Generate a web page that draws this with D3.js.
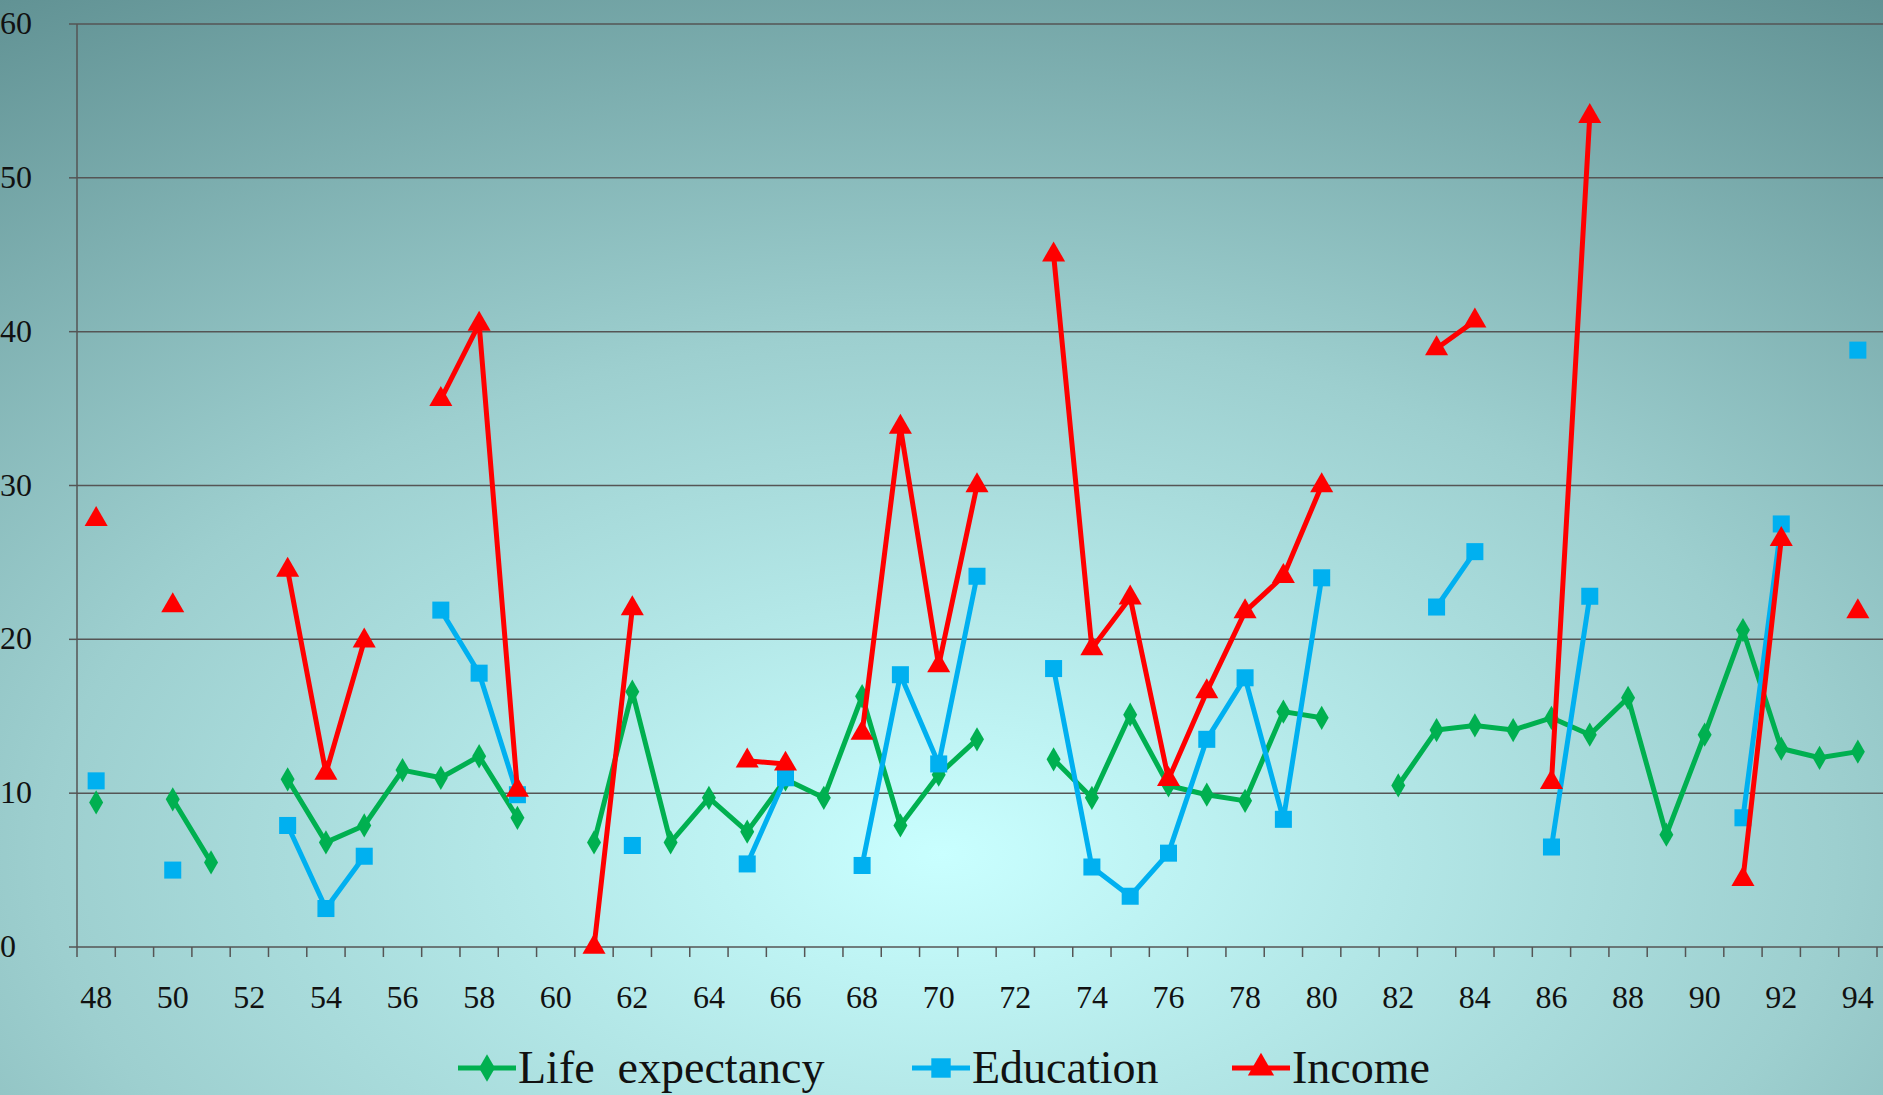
<!DOCTYPE html>
<html><head><meta charset="utf-8">
<script src="https://cdn.jsdelivr.net/npm/d3@7.9.0/dist/d3.min.js"></script>
<style>body{margin:0;overflow:hidden}svg{display:block}text{font-family:"Liberation Serif","DejaVu Serif",serif}</style>
</head><body><svg width="1883" height="1095"></svg>
<script>
(function(){
const years = d3.range(48, 95);
const N = null;
// values indexed by year 48..94
const life = [9.4,N,9.6,5.5,N,10.9,6.8,7.9,11.5,11.0,12.4,8.4,N,6.8,16.6,6.8,9.7,7.5,10.9,9.7,16.3,7.9,11.2,13.5,N,12.2,9.7,15.1,10.5,9.9,9.5,15.3,14.9,N,10.5,14.1,14.4,14.1,14.9,13.8,16.2,7.3,13.8,20.6,12.9,12.3,12.7];
const education = [10.8,N,5.0,N,N,7.9,2.5,5.9,N,21.9,17.8,9.9,N,N,6.6,N,N,5.4,11.0,N,5.3,17.7,11.9,24.1,N,18.1,5.2,3.3,6.1,13.5,17.5,8.3,24.0,N,N,22.1,25.7,N,6.5,22.8,N,N,N,8.4,27.5,N,38.8];
const income = [27.8,N,22.2,N,N,24.5,11.3,19.9,N,35.6,40.5,10.2,N,0.0,22.0,N,N,12.1,11.9,N,13.9,33.8,18.3,30.0,N,45.0,19.4,22.7,10.9,16.6,21.8,24.1,30.0,N,N,38.9,40.7,N,10.7,54.0,N,N,N,4.4,26.5,N,21.8];
const yTicks = [0,10,20,30,40,50,60];
const series = [
  {name:"Life  expectancy", values:life, color:"#00b050", shape:d3.symbolDiamond, size:170},
  {name:"Education", values:education, color:"#00b0f0", shape:d3.symbolSquare, size:290},
  {name:"Income", values:income, color:"#ff0000", shape:d3.symbolTriangle, size:230}
];

const svg = d3.select("svg");
const W = 1883, H = 1095;
const defs = svg.append("defs");
const rg = defs.append("radialGradient").attr("id","bg").attr("cx","0.5").attr("cy","0.78").attr("r","0.95");
rg.append("stop").attr("offset","0").attr("stop-color","#c9ffff");
rg.append("stop").attr("offset","0.5").attr("stop-color","#9dcfcf");
rg.append("stop").attr("offset","1").attr("stop-color","#5e8f91");
svg.append("rect").attr("width",W).attr("height",H).attr("fill","url(#bg)");

const mLeft = 77, mRight = 1877, mTop = 24, mBottom = 947;
const x = d3.scaleBand().domain(years).range([mLeft, mRight]);
const y = d3.scaleLinear().domain([0,60]).range([mBottom, mTop]);

svg.append("g").selectAll("line").data(yTicks.slice(1)).join("line")
  .attr("x1",mLeft).attr("x2",W).attr("y1",d=>y(d)).attr("y2",d=>y(d))
  .attr("stroke","#555").attr("stroke-width",1.5);
svg.append("g").selectAll("text").data(yTicks).join("text")
  .attr("x",0).attr("y",d=>y(d)+10).attr("font-size",32).attr("fill","#111").text(d=>d);
svg.append("line").attr("x1",mLeft).attr("x2",mLeft).attr("y1",mTop).attr("y2",mBottom).attr("stroke","#555").attr("stroke-width",1.5);
svg.append("line").attr("x1",mLeft).attr("x2",W).attr("y1",mBottom).attr("y2",mBottom).attr("stroke","#555").attr("stroke-width",1.5);
svg.append("g").selectAll("line").data(years.concat([95])).join("line")
  .attr("x1",d=>d===95?mRight:x(d)).attr("x2",d=>d===95?mRight:x(d))
  .attr("y1",mBottom).attr("y2",mBottom+10).attr("stroke","#555").attr("stroke-width",1.5);
svg.append("g").selectAll("line").data(yTicks).join("line")
  .attr("x1",mLeft-8).attr("x2",mLeft).attr("y1",d=>y(d)).attr("y2",d=>y(d)).attr("stroke","#555").attr("stroke-width",1.5);
svg.append("g").selectAll("text").data(years.filter(d=>d%2===0)).join("text")
  .attr("x",d=>x(d)+x.bandwidth()/2).attr("y",1008).attr("text-anchor","middle")
  .attr("font-size",32).attr("fill","#111").text(d=>d);

const cx = d=>x(d.yr)+x.bandwidth()/2;
series.forEach(s=>{
  const pts = years.map((yr,i)=>({yr, v:s.values[i]}));
  const line = d3.line().defined(d=>d.v!==null).x(cx).y(d=>y(d.v));
  svg.append("path").datum(pts).attr("d",line).attr("fill","none")
    .attr("stroke",s.color).attr("stroke-width",5).attr("stroke-linejoin","round");
  svg.append("g").selectAll("path").data(pts.filter(d=>d.v!==null)).join("path")
    .attr("transform",d=>`translate(${cx(d)},${y(d.v)})`)
    .attr("d",d3.symbol().type(s.shape).size(s.size)).attr("fill",s.color);
});

// legend
const lx = [458, 912, 1232];
series.forEach((s,i)=>{
  const g = svg.append("g").attr("transform",`translate(${lx[i]},1068)`);
  g.append("line").attr("x1",0).attr("x2",58).attr("stroke",s.color).attr("stroke-width",5);
  g.append("path").attr("transform","translate(29,0)").attr("d",d3.symbol().type(s.shape).size(s.size*1.3)).attr("fill",s.color);
  g.append("text").attr("x",60).attr("y",15).attr("font-size",46).attr("fill","#111").attr("xml:space","preserve").text(s.name);
});
})();
</script></body></html>
